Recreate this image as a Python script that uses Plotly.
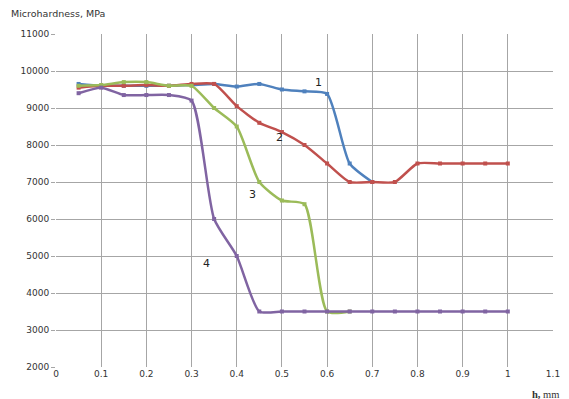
import plotly.graph_objects as go

x1 = [0.05, 0.1, 0.15, 0.2, 0.25, 0.3, 0.35, 0.4, 0.45, 0.5, 0.55, 0.6, 0.65, 0.7]
y1 = [9650, 9600, 9600, 9600, 9600, 9620, 9650, 9580, 9650, 9500, 9450, 9380, 7500, 7000]

x2 = [0.05, 0.1, 0.15, 0.2, 0.25, 0.3, 0.35, 0.4, 0.45, 0.5, 0.55, 0.6, 0.65, 0.7, 0.75, 0.8, 0.85, 0.9, 0.95, 1.0]
y2 = [9550, 9600, 9600, 9620, 9600, 9650, 9650, 9050, 8600, 8350, 8000, 7500, 7000, 7000, 7000, 7500, 7500, 7500, 7500, 7500]

x3 = [0.05, 0.1, 0.15, 0.2, 0.25, 0.3, 0.35, 0.4, 0.45, 0.5, 0.55, 0.6, 0.65]
y3 = [9600, 9620, 9700, 9700, 9600, 9600, 9000, 8500, 7000, 6500, 6400, 3500, 3500]

x4 = [0.05, 0.1, 0.15, 0.2, 0.25, 0.3, 0.35, 0.4, 0.45, 0.5, 0.55, 0.6, 0.65, 0.7, 0.75, 0.8, 0.85, 0.9, 0.95, 1.0]
y4 = [9400, 9550, 9350, 9350, 9350, 9200, 6000, 5000, 3500, 3500, 3500, 3500, 3500, 3500, 3500, 3500, 3500, 3500, 3500, 3500]

series = [
    ("1", x1, y1, "#4F81BD"),
    ("2", x2, y2, "#C0504D"),
    ("3", x3, y3, "#9BBB59"),
    ("4", x4, y4, "#8064A2"),
]

labels = ["1", "2", "3", "4"]
label_x = [0.58, 0.495, 0.436, 0.334]
label_y = [9700, 8190, 6650, 4810]

x_ticks = [0, 0.1, 0.2, 0.3, 0.4, 0.5, 0.6, 0.7, 0.8, 0.9, 1.0, 1.1]
x_ticktext = ["0", "0.1", "0.2", "0.3", "0.4", "0.5", "0.6", "0.7", "0.8", "0.9", "1", "1.1"]
y_ticks = [2000, 3000, 4000, 5000, 6000, 7000, 8000, 9000, 10000, 11000]

fig = go.Figure()
for name, xs, ys, col in series:
    fig.add_trace(go.Scatter(
        x=xs, y=ys, mode="lines+markers", name=name,
        line=dict(color=col, width=2.5, shape="spline", smoothing=0.6),
        marker=dict(symbol="square", size=4, color=col),
        showlegend=False,
    ))

for t, lx, ly in zip(labels, label_x, label_y):
    fig.add_annotation(x=lx, y=ly, text=t, showarrow=False,
                       font=dict(family="DejaVu Sans", size=11, color="#222"))

fig.add_annotation(xref="paper", yref="paper", x=-0.095, y=1.04, xanchor="left", yanchor="bottom",
                   text="Microhardness, MPa", showarrow=False,
                   font=dict(family="DejaVu Sans", size=9.5, color="#333"))
fig.add_annotation(xref="paper", yref="paper", x=1.016, y=-0.06, xanchor="right", yanchor="top",
                   text="<b>h,</b> mm", showarrow=False,
                   font=dict(family="Liberation Serif", size=10.5, color="#333"))

fig.update_xaxes(range=[0, 1.1], tickvals=x_ticks, ticktext=x_ticktext,
                 showgrid=True, gridcolor="#A6A6A6", gridwidth=1,
                 zeroline=False, showline=False, ticks="",
                 tickfont=dict(family="DejaVu Sans", size=9, color="#333"))
fig.update_yaxes(range=[2000, 11000], tickvals=y_ticks, tickformat="d",
                 showgrid=True, gridcolor="#A6A6A6", gridwidth=1,
                 zeroline=False, showline=False, ticks="outside", ticklen=4, tickcolor="#A6A6A6",
                 tickfont=dict(family="DejaVu Sans", size=9, color="#333"))

fig.update_layout(width=569, height=399, margin=dict(l=56, r=9, t=34, b=32),
                  plot_bgcolor="white", paper_bgcolor="white")

fig.write_html("out.html", config={"displayModeBar": False},
               post_script="document.body.style.margin='0';document.body.style.overflow='hidden';")
